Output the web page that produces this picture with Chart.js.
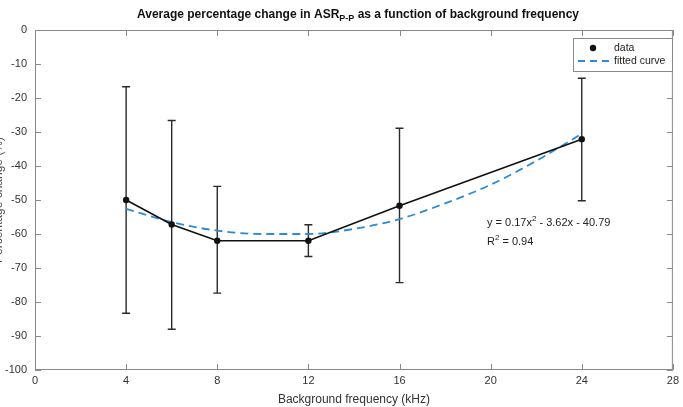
<!DOCTYPE html>
<html>
<head>
<meta charset="utf-8">
<script src="https://cdn.jsdelivr.net/npm/chart.js@4/dist/chart.umd.min.js"></script>
<style>
  html, body { margin: 0; padding: 0; background: #fff; }
  #wrap { width: 683px; height: 407px; position: relative; }
</style>
</head>
<body>
<div id="wrap"><canvas id="chart"></canvas></div>
<script>
const freqs = [4, 6, 8, 12, 16, 24];
const meanChange = [-50, -57.2, -62, -62, -51.7, -32.1];
const errUpper = [-16.7, -26.6, -46, -57.3, -28.9, -14.2];
const errLower = [-83.3, -88, -77.4, -66.6, -74.3, -50.2];

// courbe ajustée
const fitFreqs = [4, 6, 8, 10, 12, 14, 16, 18, 20, 22, 24];
const fitValues = [-52.6, -56.5, -59, -60, -60, -58.5, -55.6, -51, -45.5, -38.5, -30.5];

const xTicks = [0, 4, 8, 12, 16, 20, 24, 28];
const yTicks = [0, -10, -20, -30, -40, -50, -60, -70, -80, -90, -100];

const FONT = "'Liberation Sans', Arial, sans-serif";
const BLUE = '#2b8bd3';

// texte avec exposant/indice : morceaux [texte, taille, décalage]
function drawRich(ctx, parts, x, y, weight) {
  let cx = x;
  parts.forEach(([t, size, dy]) => {
    ctx.font = weight + ' ' + size + 'px ' + FONT;
    ctx.fillText(t, cx, y + dy);
    cx += ctx.measureText(t).width;
  });
}
function richWidth(ctx, parts, weight) {
  let w = 0;
  parts.forEach(([t, size]) => { ctx.font = weight + ' ' + size + 'px ' + FONT; w += ctx.measureText(t).width; });
  return w;
}

const extras = {
  id: 'extras',
  beforeDatasetsDraw(chart) {
    // barres d'erreur
    const ctx = chart.ctx, xs = chart.scales.x, ys = chart.scales.y;
    ctx.save();
    ctx.strokeStyle = '#2a2a2a';
    ctx.lineWidth = 1.4;
    freqs.forEach((f, i) => {
      const px = xs.getPixelForValue(f);
      const top = ys.getPixelForValue(errUpper[i]);
      const bot = ys.getPixelForValue(errLower[i]);
      ctx.beginPath();
      ctx.moveTo(px, top); ctx.lineTo(px, bot);
      ctx.moveTo(px - 4, top); ctx.lineTo(px + 4, top);
      ctx.moveTo(px - 4, bot); ctx.lineTo(px + 4, bot);
      ctx.stroke();
    });
    ctx.restore();
  },
  afterDraw(chart) {
    const ctx = chart.ctx, a = chart.chartArea;
    const xs = chart.scales.x, ys = chart.scales.y;
    ctx.save();

    // cadre + graduations vers l'intérieur
    ctx.strokeStyle = '#8a8a8a';
    ctx.lineWidth = 1;
    ctx.strokeRect(a.left + 0.5, a.top + 0.5, a.right - a.left - 1, a.bottom - a.top - 1);
    ctx.beginPath();
    xTicks.forEach(v => {
      const px = Math.round(xs.getPixelForValue(v)) + 0.5;
      ctx.moveTo(px, a.bottom); ctx.lineTo(px, a.bottom - 6);
      ctx.moveTo(px, a.top); ctx.lineTo(px, a.top + 6);
    });
    yTicks.forEach(v => {
      const py = Math.round(ys.getPixelForValue(v)) + 0.5;
      ctx.moveTo(a.left, py); ctx.lineTo(a.left + 6, py);
      ctx.moveTo(a.right, py); ctx.lineTo(a.right - 6, py);
    });
    ctx.stroke();

    // titre avec indice
    ctx.fillStyle = '#111';
    ctx.textAlign = 'left';
    ctx.textBaseline = 'alphabetic';
    const title = [['Average percentage change in ASR', 12, 0], ['P-P', 9, 3], [' as a function of background frequency', 12, 0]];
    const tw = richWidth(ctx, title, 'bold');
    drawRich(ctx, title, 358 - tw / 2, 18, 'bold');

    // titre de l'axe y (coupé à gauche)
    ctx.save();
    ctx.translate(-1, (a.top + a.bottom) / 2);
    ctx.rotate(-Math.PI / 2);
    ctx.font = '12px ' + FONT;
    ctx.fillStyle = '#555';
    ctx.textAlign = 'center';
    ctx.textBaseline = 'middle';
    ctx.fillText('Percentage change (%)', 0, 0);
    ctx.restore();

    // légende
    const lx = 573, ly = 38, lw = 99, lh = 33;
    ctx.fillStyle = '#fff';
    ctx.fillRect(lx, ly, lw, lh);
    ctx.strokeStyle = '#8a8a8a';
    ctx.strokeRect(lx + 0.5, ly + 0.5, lw, lh);
    ctx.fillStyle = '#111';
    ctx.beginPath(); ctx.arc(lx + 20, ly + 10, 3.2, 0, Math.PI * 2); ctx.fill();
    ctx.strokeStyle = BLUE; ctx.lineWidth = 1.8; ctx.setLineDash([7, 5]);
    ctx.beginPath(); ctx.moveTo(lx + 5, ly + 23); ctx.lineTo(lx + 36, ly + 23); ctx.stroke();
    ctx.setLineDash([]);
    ctx.fillStyle = '#222';
    ctx.font = '10.5px ' + FONT;
    ctx.textBaseline = 'middle';
    ctx.fillText('data', lx + 41, ly + 10);
    ctx.fillText('fitted curve', lx + 41, ly + 23);

    // équation
    ctx.fillStyle = '#222';
    ctx.textBaseline = 'alphabetic';
    drawRich(ctx, [['y = 0.17x', 11, 0], ['2', 8, -5], [' - 3.62x - 40.79', 11, 0]], 487, 226, 'normal');
    drawRich(ctx, [['R', 11, 0], ['2', 8, -5], [' = 0.94', 11, 0]], 487, 245, 'normal');
    ctx.restore();
  }
};

function initChart() {
  const canvas = document.getElementById('chart');
  new Chart(canvas, {
    type: 'line',
    data: {
      datasets: [
        {
          label: 'data',
          data: freqs.map((f, i) => ({ x: f, y: meanChange[i] })),
          borderColor: '#111',
          backgroundColor: '#111',
          borderWidth: 1.6,
          pointRadius: 3.2,
          pointBackgroundColor: '#111',
          pointBorderWidth: 0,
          tension: 0,
          order: 1
        },
        {
          label: 'fitted curve',
          data: fitFreqs.map((f, i) => ({ x: f, y: fitValues[i] })),
          borderColor: BLUE,
          borderWidth: 1.8,
          borderDash: [8, 5],
          pointRadius: 0,
          cubicInterpolationMode: 'monotone',
          order: 2
        }
      ]
    },
    plugins: [extras],
    options: {
      responsive: true,
      maintainAspectRatio: false,
      animation: false,
      layout: { padding: { top: 30, right: 6, left: 0, bottom: 0 } },
      plugins: {
        legend: { display: false },
        tooltip: { enabled: false }
      },
      scales: {
        x: {
          type: 'linear',
          min: 0, max: 28,
          afterBuildTicks: s => { s.ticks = xTicks.map(v => ({ value: v })); },
          grid: { display: false, drawTicks: false },
          border: { display: false },
          ticks: { color: '#333', font: { size: 11, family: FONT }, padding: 4, maxRotation: 0 },
          title: { display: true, text: 'Background frequency (kHz)', color: '#333', font: { size: 12, family: FONT }, padding: { top: 1, bottom: 0 } },
          afterFit: s => { s.height = 37; }
        },
        y: {
          min: -100, max: 0,
          afterBuildTicks: s => { s.ticks = yTicks.map(v => ({ value: v })); },
          grid: { display: false, drawTicks: false },
          border: { display: false },
          ticks: { color: '#333', font: { size: 11, family: FONT }, padding: 8 },
          afterFit: s => { s.width = 35; }
        }
      }
    }
  });
}

document.addEventListener('DOMContentLoaded', initChart);
</script>
</body>
</html>
